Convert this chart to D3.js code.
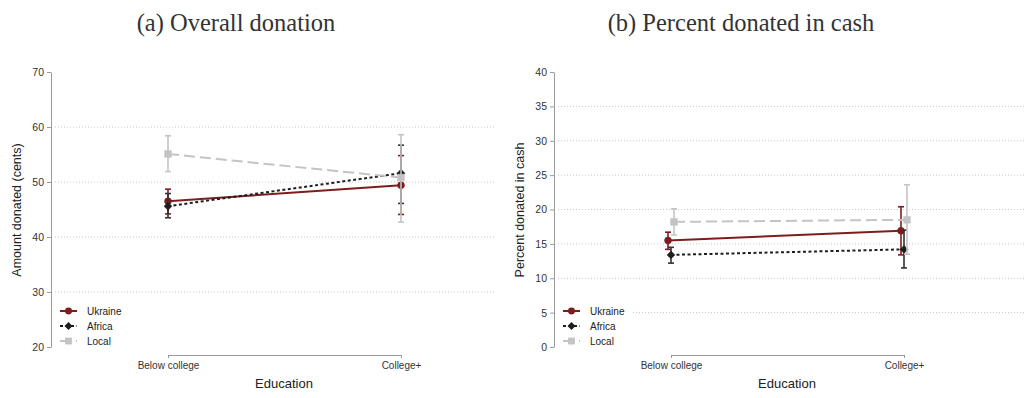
<!DOCTYPE html>
<html>
<head>
<meta charset="utf-8">
<script src="https://cdn.jsdelivr.net/npm/d3@7"></script>
<style>
  body { margin: 0; background: #fff; }
  svg { display: block; }
</style>
</head>
<body>
<div id="chart"></div>
<script>
const categories = ["Below college", "College+"];
const seriesNames = ["Ukraine", "Africa", "Local"];

// panel (a): amount donated, rows follow seriesNames
const amountMean = [[46.5, 49.4], [45.6, 51.6], [55.1, 50.8]];
const amountLow = [[44.2, 44.1], [43.5, 46.1], [51.9, 42.7]];
const amountHigh = [[48.7, 54.8], [47.9, 56.7], [58.4, 58.6]];
const amountTicks = [20, 30, 40, 50, 60, 70];

// panel (b): percent donated in cash
const cashMean = [[15.5, 16.9], [13.4, 14.2], [18.2, 18.5]];
const cashLow = [[14.2, 13.4], [12.2, 11.5], [16.3, 13.5]];
const cashHigh = [[16.7, 20.4], [14.5, 17.0], [20.1, 23.6]];
const cashTicks = [0, 5, 10, 15, 20, 25, 30, 35, 40];

const styles = {
  Ukraine: { color: "#7d1d1d", bar: "#7d1d1d", dash: null, marker: "circle", size: 38 },
  Africa: { color: "#1e1e1e", bar: "#333", dash: "3,2.5", marker: "diamond", size: 40 },
  Local: { color: "#c4c4c4", bar: "#c4c4c4", dash: "11,5", marker: "square", size: 60 }
};

const sans = "'Liberation Sans', Arial, sans-serif";

const svg = d3
  .select("#chart")
  .append("svg")
  .attr("width", 1024)
  .attr("height", 398);

function panel(left, opts) {
  const g = svg.append("g").attr("transform", `translate(${left}, 0)`);
  const y = d3.scaleLinear().domain(opts.domain).range([347, 72]);
  const x = d3.scalePoint().domain(categories).range([117, 350]);
  const dodge = d3.scalePoint().domain(seriesNames).range([-opts.dodge, opts.dodge]);

  // grid
  g.selectAll(".grid")
    .data(opts.ticks.slice(1, -1))
    .join("line")
    .attr("x1", 4)
    .attr("x2", opts.gridEnd)
    .attr("y1", (d) => y(d))
    .attr("y2", (d) => y(d))
    .style("stroke", "#c8c8c8")
    .style("stroke-width", 1)
    .style("stroke-dasharray", "1,2");

  // y axis
  const ya = g
    .append("g")
    .call(d3.axisLeft(y).tickValues(opts.ticks).tickSize(4).tickSizeOuter(0).tickPadding(3));
  ya.select(".domain").style("stroke", "#9a9a9a");
  ya.selectAll(".tick line").style("stroke", "#9a9a9a");
  ya.selectAll("text").style("font-family", sans).style("font-size", "10.5px").style("fill", "#333");

  // x axis
  const xa = g
    .append("g")
    .attr("transform", "translate(0, 355)")
    .call(d3.axisBottom(x).tickSize(3).tickSizeOuter(0).tickPadding(4));
  xa.select(".domain").style("stroke", "#9a9a9a");
  xa.selectAll(".tick line").style("stroke", "#9a9a9a");
  xa.selectAll("text").style("font-family", sans).style("font-size", "10px").style("fill", "#333");

  g.append("text")
    .attr("x", 233)
    .attr("y", 388)
    .attr("text-anchor", "middle")
    .style("font-family", sans)
    .style("font-size", "13px")
    .style("fill", "#222")
    .text("Education");

  g.append("text")
    .attr("transform", `translate(${opts.labelX}, 210) rotate(-90)`)
    .attr("text-anchor", "middle")
    .style("font-family", sans)
    .style("font-size", "12.5px")
    .style("fill", "#222")
    .text(opts.yLabel);

  g.append("text")
    .attr("x", opts.titleX)
    .attr("y", 31)
    .attr("text-anchor", "middle")
    .style("font-family", "'Liberation Serif', 'Times New Roman', serif")
    .style("font-size", "24.5px")
    .style("fill", "#333")
    .text(opts.title);

  // legend background masks the grid
  g.append("rect")
    .attr("x", 3)
    .attr("y", 300)
    .attr("width", 76)
    .attr("height", 46)
    .style("fill", "#fff");

  seriesNames.forEach((s, i) => {
    const st = styles[s];
    const px = (j) => x(categories[j]) + dodge(s);
    const pts = categories.map((c, j) => ({ x: px(j), m: opts.mean[i][j], lo: opts.low[i][j], hi: opts.high[i][j] }));

    g.append("path")
      .datum(pts)
      .attr("d", d3.line().x((d) => d.x).y((d) => y(d.m)))
      .style("fill", "none")
      .style("stroke", st.color)
      .style("stroke-width", 2)
      .style("stroke-dasharray", st.dash);

    const bars = g.append("g").selectAll("g").data(pts).join("g");
    bars.append("line")
      .attr("x1", (d) => d.x).attr("x2", (d) => d.x)
      .attr("y1", (d) => y(d.lo)).attr("y2", (d) => y(d.hi));
    bars.selectAll(".cap")
      .data((d) => [{ x: d.x, v: d.lo }, { x: d.x, v: d.hi }])
      .join("line")
      .attr("x1", (d) => d.x - 3).attr("x2", (d) => d.x + 3)
      .attr("y1", (d) => y(d.v)).attr("y2", (d) => y(d.v));
    bars.selectAll("line").style("stroke", st.bar).style("stroke-width", 1.6);

    const sym = d3.symbol().type(
      st.marker === "circle" ? d3.symbolCircle : st.marker === "diamond" ? d3.symbolDiamond2 : d3.symbolSquare2
    ).size(st.size);
    g.append("g").selectAll("path").data(pts).join("path")
      .attr("transform", (d) => `translate(${d.x}, ${y(d.m)})`)
      .attr("d", sym)
      .style("fill", st.color)
      .style("stroke", st.color)
      .style("stroke-width", 0.5);

    // legend entry
    const ly = 311 + i * 15;
    g.append("line")
      .attr("x1", 9).attr("x2", 26).attr("y1", ly).attr("y2", ly)
      .style("stroke", st.color)
      .style("stroke-width", 2)
      .style("stroke-dasharray", st.dash);
    g.append("path")
      .attr("transform", `translate(17.5, ${ly})`)
      .attr("d", sym)
      .style("fill", st.color);
    g.append("text")
      .attr("x", 36)
      .attr("y", ly)
      .attr("dy", "0.35em")
      .style("font-family", sans)
      .style("font-size", "10px")
      .style("fill", "#222")
      .text(s);
  });
}

panel(51, {
  domain: [20, 70], ticks: amountTicks, mean: amountMean, low: amountLow, high: amountHigh,
  dodge: 0, gridEnd: 443, labelX: -30, titleX: 185,
  yLabel: "Amount donated (cents)", title: "(a) Overall donation"
});

panel(554, {
  domain: [0, 40], ticks: cashTicks, mean: cashMean, low: cashLow, high: cashHigh,
  dodge: 3, gridEnd: 470, labelX: -30, titleX: 187,
  yLabel: "Percent donated in cash", title: "(b) Percent donated in cash"
});
</script>
</body>
</html>
